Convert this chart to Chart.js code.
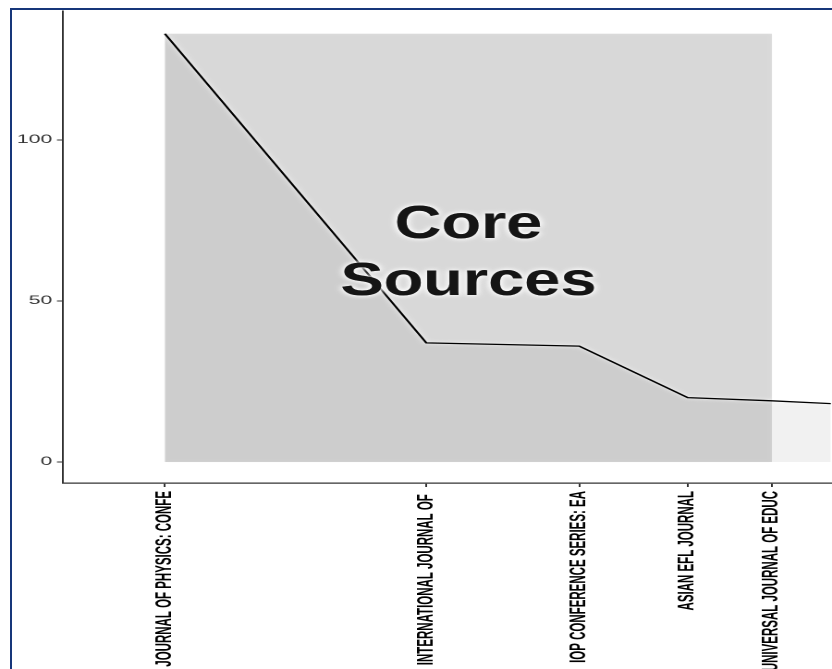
<!DOCTYPE html>
<html>
<head>
<meta charset="utf-8">
<script src="https://cdn.jsdelivr.net/npm/chart.js@4.4.0/dist/chart.umd.min.js"></script>
<style>
  html, body { margin: 0; padding: 0; background: #fff; overflow: hidden; }
  /* the reference picture is stretched sideways, so the chart is drawn narrow and widened */
  #wrap { position: absolute; left: 0; top: 0; width: 450px; height: 669px; transform: scaleX(1.848889); transform-origin: 0 0; }
  #frame { position: absolute; left: 10px; top: 8px; width: 900px; height: 700px; border-left: 2.5px solid #17367a; border-top: 2.5px solid #17367a; pointer-events: none; }
</style>
</head>
<body>
<div id="wrap"><canvas id="chart"></canvas></div>
<div id="frame"></div>
<script>
var sources = ["JOURNAL OF PHYSICS: CONFE", "INTERNATIONAL JOURNAL OF ", "IOP CONFERENCE SERIES: EA", "ASIAN EFL JOURNAL", "UNIVERSAL JOURNAL OF EDUC", ""];
var articles = [133, 37, 36, 20, 19, 18];
var coreCount = 5;
var yTicks = [0, 50, 100];
var coreText = ["Core", "Sources"];

var ranks = sources.map(function (s, i) { return i + 1; });
var points = ranks.map(function (r, i) { return { x: r, y: articles[i] }; });

var decor = {
    id: 'decor',
    beforeDatasetsDraw: function (chart) {
        // grey box over the core zone
        var ctx = chart.ctx, xs = chart.scales.x, ys = chart.scales.y;
        var x0 = xs.getPixelForValue(1), x1 = xs.getPixelForValue(coreCount);
        var y0 = ys.getPixelForValue(0), y1 = ys.getPixelForValue(articles[0]);
        ctx.save();
        ctx.shadowColor = 'rgba(0,0,0,0.25)';
        ctx.shadowBlur = 4;
        ctx.fillStyle = 'rgba(0,0,0,0.125)';
        ctx.fillRect(x0, y1, x1 - x0, y0 - y1);
        ctx.restore();
    },
    beforeDatasetDraw: function (chart) {
        chart.ctx.save();
        chart.ctx.shadowColor = '#fff';
        chart.ctx.shadowBlur = 6;
    },
    afterDatasetDraw: function (chart) {
        chart.ctx.restore();
    },
    afterDatasetsDraw: function (chart) {
        var ctx = chart.ctx, xs = chart.scales.x, ys = chart.scales.y;
        var cx = (xs.getPixelForValue(1) + xs.getPixelForValue(coreCount)) / 2;
        var cy = (ys.getPixelForValue(0) + ys.getPixelForValue(articles[0])) / 2;
        ctx.save();
        ctx.translate(cx, 0);
        ctx.scale(0.763, 1);
        ctx.font = 'bold 46px "Liberation Sans", Arial, sans-serif';
        ctx.textAlign = 'center';
        ctx.textBaseline = 'alphabetic';
        ctx.shadowColor = '#fff';
        ctx.shadowBlur = 8;
        ctx.fillStyle = '#151515';
        for (var k = 0; k < 2; k++) {
            ctx.fillText(coreText[0], 0, cy - 10);
            ctx.fillText(coreText[1], 0, cy + 47);
        }
        ctx.restore();
    }
};

new Chart(document.getElementById('chart'), {
    type: 'line',
    data: {
        datasets: [{
            data: points,
            borderColor: '#000',
            borderWidth: 1.3,
            backgroundColor: 'rgba(0,0,0,0.055)',
            fill: 'origin',
            pointRadius: 0,
            tension: 0
        }]
    },
    options: {
        responsive: true,
        maintainAspectRatio: false,
        devicePixelRatio: 2,
        animation: false,
        layout: { padding: { top: 11, left: 0, right: 0, bottom: 0 } },
        plugins: { legend: { display: false }, tooltip: { enabled: false } },
        scales: {
            x: {
                type: 'logarithmic',
                min: 0.763,
                max: 5.845,
                border: { color: '#333', width: 1.2 },
                grid: { drawOnChartArea: false, drawTicks: true, tickLength: 4, color: '#333' },
                afterBuildTicks: function (scale) {
                    scale.ticks = ranks.filter(function (r) { return r <= scale.max; })
                        .map(function (r) { return { value: r }; });
                },
                afterFit: function (scale) { scale.height = 186; },
                ticks: {
                    autoSkip: false,
                    minRotation: 90,
                    maxRotation: 90,
                    padding: 4,
                    color: '#000',
                    font: { family: '"Liberation Sans", Arial, sans-serif', size: 11.5, weight: 'bold', lineHeight: 0.7 },
                    callback: function (value) { return sources[Math.round(value) - 1]; }
                }
            },
            y: {
                min: -6.52,
                max: 140.06,
                border: { color: '#333', width: 1 },
                grid: { drawOnChartArea: false, drawTicks: true, tickLength: 3.2, color: '#333' },
                afterBuildTicks: function (scale) {
                    scale.ticks = yTicks.map(function (v) { return { value: v }; });
                },
                afterFit: function (scale) { scale.width = 34; },
                ticks: {
                    padding: 2.5,
                    color: '#333',
                    font: { family: '"Liberation Sans", Arial, sans-serif', size: 11.5 }
                }
            }
        }
    },
    plugins: [decor]
});
</script>
</body>
</html>
